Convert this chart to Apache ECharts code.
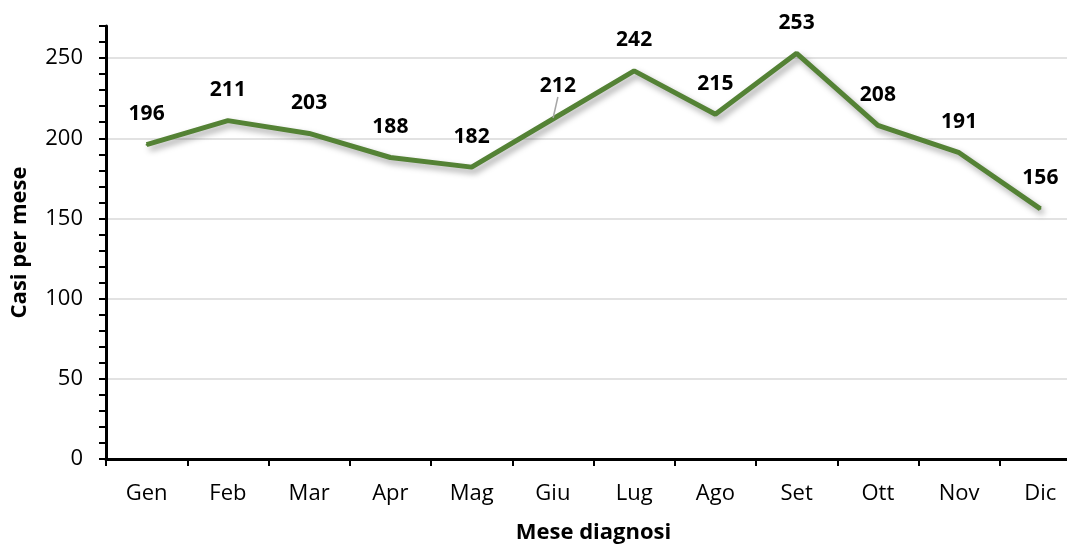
<!DOCTYPE html>
<html>
<head>
<meta charset="utf-8">
<script src="https://cdn.jsdelivr.net/npm/echarts@6/dist/echarts.min.js"></script>
<style>
  html, body { margin: 0; padding: 0; background: #fff; }
  #chart { width: 1067px; height: 545px; }
</style>
</head>
<body>
<div id="chart"></div>
<script>
var mesi = ['Gen', 'Feb', 'Mar', 'Apr', 'Mag', 'Giu', 'Lug', 'Ago', 'Set', 'Ott', 'Nov', 'Dic'];
var casi = [196, 211, 203, 188, 182, 212, 242, 215, 253, 208, 191, 156];

var font = '"Open Sans", "Noto Sans", sans-serif';

var datiSerie = casi.map(function (v, i) {
    if (i === 5) {
        // etichetta spostata con linea guida
        return { value: v, labelLine: { show: true, lineStyle: { color: '#a6a6a6', width: 1.5 } } };
    }
    return v;
});

var myChart = echarts.init(document.getElementById('chart'));
myChart.setOption({
    animation: false,
    textStyle: { fontFamily: font },
    grid: { left: 106, right: -14, top: 26, bottom: 86, containLabel: false, outerBoundsMode: 'none' },
    xAxis: {
        type: 'category',
        data: mesi,
        name: 'Mese diagnosi',
        nameLocation: 'middle',
        nameGap: 63,
        nameTextStyle: { fontSize: 22, fontWeight: 'bold', color: '#000', fontFamily: font },
        axisLine: { lineStyle: { color: '#000', width: 3 } },
        axisTick: { show: true, length: 7, lineStyle: { color: '#000', width: 2 } },
        axisLabel: { fontSize: 22, color: '#000', margin: 24, fontFamily: font }
    },
    yAxis: {
        type: 'value',
        min: 0,
        max: 270,
        interval: 10,
        name: 'Casi per mese',
        nameLocation: 'middle',
        nameGap: 75,
        nameTextStyle: { fontSize: 22, fontWeight: 'bold', color: '#000', fontFamily: font },
        axisLine: { show: true, lineStyle: { color: '#000', width: 3 } },
        axisTick: { show: true, length: 7, lineStyle: { color: '#000', width: 2 } },
        axisLabel: {
            fontSize: 22, color: '#000', margin: 23, fontFamily: font,
            formatter: function (v) { return v % 50 === 0 ? String(v) : ''; }
        },
        splitLine: {
            show: true,
            lineStyle: { color: ['#d9d9d9', 'rgba(0,0,0,0)', 'rgba(0,0,0,0)', 'rgba(0,0,0,0)', 'rgba(0,0,0,0)'], width: 1.5 }
        }
    },
    series: [{
        type: 'line',
        data: datiSerie,
        symbol: 'circle',
        symbolSize: 2,
        lineStyle: {
            color: '#548235',
            width: 5,
            shadowColor: 'rgba(0,0,0,0.35)',
            shadowBlur: 6,
            shadowOffsetX: 3,
            shadowOffsetY: 4
        },
        itemStyle: { color: '#548235' },
        label: {
            show: true,
            position: 'top',
            distance: 19,
            fontSize: 21,
            fontWeight: 'bold',
            color: '#000',
            fontFamily: font
        },
        labelLayout: function (params) {
            if (params.dataIndex === 5) {
                return { dx: 5, dy: -2 };
            }
            return {};
        }
    }]
});
</script>
</body>
</html>
